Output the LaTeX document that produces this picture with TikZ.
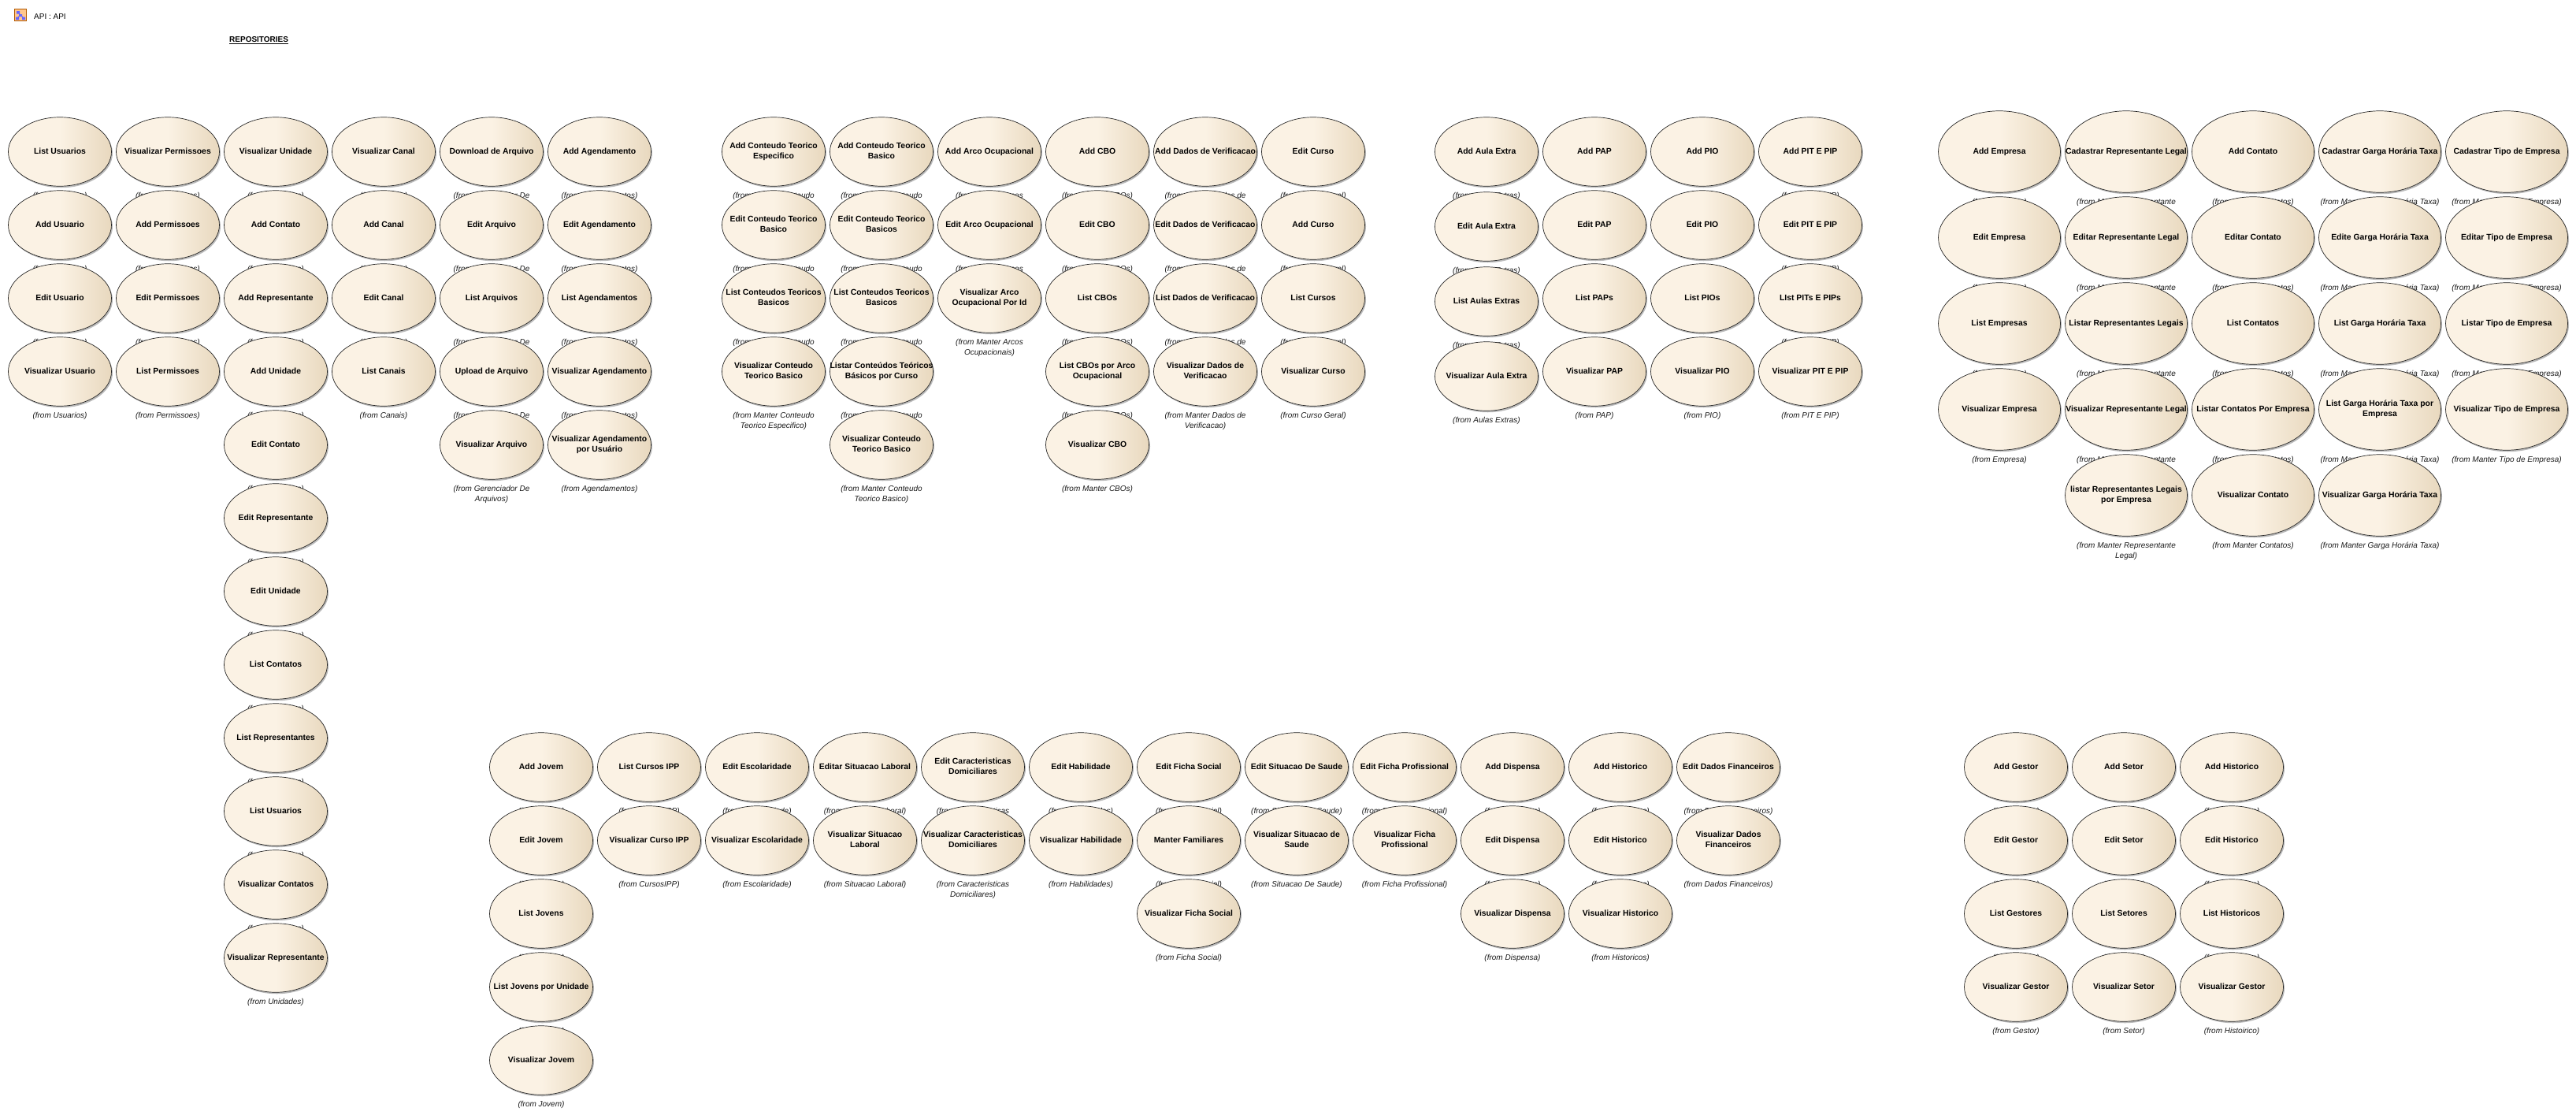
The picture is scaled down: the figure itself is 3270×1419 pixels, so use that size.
\documentclass[tikz,border=0pt]{standalone}
\usepackage{fontspec}
\setmainfont{Liberation Sans}
\usetikzlibrary{positioning,shapes.geometric,shadows}
\definecolor{uclight}{HTML}{FBF2E4}
\definecolor{ucdark}{HTML}{E8D8BE}
\newcommand{\ucase}[6][ucnormal]{%
  \node[ucase,#1] (#2) at (#3,#4) {\makebox[0pt]{\begin{tabular}{@{}c@{}}#5\end{tabular}}};
  \node[fromlbl,below=7pt of #2] (from#2) {(from #6)};
}
\begin{document}
\begin{tikzpicture}[x=1pt,y=-1pt,
  ucase/.style={ellipse,draw=black!85,line width=0.7pt,inner sep=0pt,left color=uclight,
    right color=ucdark,middle color=uclight,
    drop shadow={shadow xshift=1.5pt,shadow yshift=-2pt,fill=black!45,opacity=0.6},
    font=\fontsize{10.4}{13}\selectfont\bfseries},
  ucnormal/.style={minimum width=131pt,minimum height=87.5pt},
  ucwide/.style={minimum width=155pt,minimum height=103.5pt},
  fromlbl/.style={inner sep=0pt,align=center,font=\fontsize{10}{13}\selectfont\itshape,text=black!90}]
\useasboundingbox (0,0) rectangle (3270,1419);
% title
\filldraw[fill=orange!45,draw=orange!70!black,line width=1pt] (18.5,11.5) rectangle (33.5,26.5);
\draw[blue!70,line width=0.8pt] (23,16) -- (26,19) -- (30,23) (26,19) -- (22,23);
\fill[blue!60] (21,14) rectangle (25,17.5) (24,18) rectangle (28,21) (20,21.5) rectangle (24,25) (28,21.5) rectangle (32,25);
\node[anchor=west,inner sep=0pt,font=\fontsize{10}{12}\selectfont] (diagtitle) at (43,21) {API : API};
\node[anchor=west,inner sep=0pt,font=\fontsize{10}{12}\selectfont\bfseries] (repotitle) at (291,51) {\underline{REPOSITORIES}};
% usuarios
\ucase{listusuarios}{76}{192.5}{List Usuarios}{Usuarios}
\ucase{addusuario}{76}{285.5}{Add Usuario}{Usuarios}
\ucase{editusuario}{76}{378.5}{Edit Usuario}{Usuarios}
\ucase{verusuario}{76}{471.5}{Visualizar Usuario}{Usuarios}
% permissoes
\ucase{verpermissoes}{213}{192.5}{Visualizar Permissoes}{Permissoes}
\ucase{addpermissoes}{213}{285.5}{Add Permissoes}{Permissoes}
\ucase{editpermissoes}{213}{378.5}{Edit Permissoes}{Permissoes}
\ucase{listpermissoes}{213}{471.5}{List Permissoes}{Permissoes}
% unidades
\ucase{verunidade}{350}{192.5}{Visualizar Unidade}{Unidades}
\ucase{unicontatoadd}{350}{285.5}{Add Contato}{Unidades}
\ucase{addrepr}{350}{378.5}{Add Representante}{Unidades}
\ucase{addunidade}{350}{471.5}{Add Unidade}{Unidades}
\ucase{unicontatoedit}{350}{564.5}{Edit Contato}{Unidades}
\ucase{editrepr}{350}{657.5}{Edit Representante}{Unidades}
\ucase{editunidade}{350}{750.5}{Edit Unidade}{Unidades}
\ucase{unicontatolist}{350}{843.5}{List Contatos}{Unidades}
\ucase{listrepr}{350}{936.5}{List Representantes}{Unidades}
\ucase{uniusuarios}{350}{1029.5}{List Usuarios}{Unidades}
\ucase{vercontatos}{350}{1122.5}{Visualizar Contatos}{Unidades}
\ucase{verrepr}{350}{1215.5}{Visualizar Representante}{Unidades}
% canais
\ucase{vercanal}{487}{192.5}{Visualizar Canal}{Canais}
\ucase{addcanal}{487}{285.5}{Add Canal}{Canais}
\ucase{editcanal}{487}{378.5}{Edit Canal}{Canais}
\ucase{listcanais}{487}{471.5}{List Canais}{Canais}
% arquivos
\ucase{downarquivo}{624}{192.5}{Download de Arquivo}{Gerenciador De\\Arquivos}
\ucase{editarquivo}{624}{285.5}{Edit Arquivo}{Gerenciador De\\Arquivos}
\ucase{listarquivos}{624}{378.5}{List Arquivos}{Gerenciador De\\Arquivos}
\ucase{uparquivo}{624}{471.5}{Upload de Arquivo}{Gerenciador De\\Arquivos}
\ucase{verarquivo}{624}{564.5}{Visualizar Arquivo}{Gerenciador De\\Arquivos}
% agendamentos
\ucase{addagenda}{761}{192.5}{Add Agendamento}{Agendamentos}
\ucase{editagenda}{761}{285.5}{Edit Agendamento}{Agendamentos}
\ucase{listagenda}{761}{378.5}{List Agendamentos}{Agendamentos}
\ucase{veragenda}{761}{471.5}{Visualizar Agendamento}{Agendamentos}
\ucase{veragendauser}{761}{564.5}{Visualizar Agendamento\\por Usuário}{Agendamentos}
% conteudo especifico
\ucase{addespecifico}{982}{192.5}{Add Conteudo Teorico\\Especifico}{Manter Conteudo\\Teorico Especifico}
\ucase{editespecifico}{982}{285.5}{Edit Conteudo Teorico\\Basico}{Manter Conteudo\\Teorico Especifico}
\ucase{listespecifico}{982}{378.5}{List Conteudos Teoricos\\Basicos}{Manter Conteudo\\Teorico Especifico}
\ucase{verespecifico}{982}{471.5}{Visualizar Conteudo\\Teorico Basico}{Manter Conteudo\\Teorico Especifico}
% conteudo basico
\ucase{addbasico}{1119}{192.5}{Add Conteudo Teorico\\Basico}{Manter Conteudo\\Teorico Basico}
\ucase{editbasico}{1119}{285.5}{Edit Conteudo Teorico\\Basicos}{Manter Conteudo\\Teorico Basico}
\ucase{listbasico}{1119}{378.5}{List Conteudos Teoricos\\Basicos}{Manter Conteudo\\Teorico Basico}
\ucase{listbasicocurso}{1119}{471.5}{Listar Conteúdos Teóricos\\Básicos por Curso}{Manter Conteudo\\Teorico Basico}
\ucase{verbasico}{1119}{564.5}{Visualizar Conteudo\\Teorico Basico}{Manter Conteudo\\Teorico Basico}
% arcos
\ucase{addarco}{1256}{192.5}{Add Arco Ocupacional}{Manter Arcos\\Ocupacionais}
\ucase{editarco}{1256}{285.5}{Edit Arco Ocupacional}{Manter Arcos\\Ocupacionais}
\ucase{verarco}{1256}{378.5}{Visualizar Arco\\Ocupacional Por Id}{Manter Arcos\\Ocupacionais}
% cbo
\ucase{addcbo}{1393}{192.5}{Add CBO}{Manter CBOs}
\ucase{editcbo}{1393}{285.5}{Edit CBO}{Manter CBOs}
\ucase{listcbo}{1393}{378.5}{List CBOs}{Manter CBOs}
\ucase{listcboarco}{1393}{471.5}{List CBOs por Arco\\Ocupacional}{Manter CBOs}
\ucase{vercbo}{1393}{564.5}{Visualizar CBO}{Manter CBOs}
% verificacao
\ucase{addverif}{1530}{192.5}{Add Dados de Verificacao}{Manter Dados de\\Verificacao}
\ucase{editverif}{1530}{285.5}{Edit Dados de Verificacao}{Manter Dados de\\Verificacao}
\ucase{listverif}{1530}{378.5}{List Dados de Verificacao}{Manter Dados de\\Verificacao}
\ucase{ververif}{1530}{471.5}{Visualizar Dados de\\Verificacao}{Manter Dados de\\Verificacao}
% curso
\ucase{editcurso}{1667}{192.5}{Edit Curso}{Curso Geral}
\ucase{addcurso}{1667}{285.5}{Add Curso}{Curso Geral}
\ucase{listcursos}{1667}{378.5}{List Cursos}{Curso Geral}
\ucase{vercurso}{1667}{471.5}{Visualizar Curso}{Curso Geral}
% aulas extras
\ucase{addaula}{1887}{192.5}{Add Aula Extra}{Aulas Extras}
\ucase{editaula}{1887}{287.5}{Edit Aula Extra}{Aulas Extras}
\ucase{listaulas}{1887}{382.5}{List Aulas Extras}{Aulas Extras}
\ucase{veraula}{1887}{477.5}{Visualizar Aula Extra}{Aulas Extras}
% pap
\ucase{addpap}{2024}{192.5}{Add PAP}{PAP}
\ucase{editpap}{2024}{285.5}{Edit PAP}{PAP}
\ucase{listpap}{2024}{378.5}{List PAPs}{PAP}
\ucase{verpap}{2024}{471.5}{Visualizar PAP}{PAP}
% pio
\ucase{addpio}{2161}{192.5}{Add PIO}{PIO}
\ucase{editpio}{2161}{285.5}{Edit PIO}{PIO}
\ucase{listpio}{2161}{378.5}{List PIOs}{PIO}
\ucase{verpio}{2161}{471.5}{Visualizar PIO}{PIO}
% pit e pip
\ucase{addpit}{2298}{192.5}{Add PIT E PIP}{PIT E PIP}
\ucase{editpit}{2298}{285.5}{Edit PIT E PIP}{PIT E PIP}
\ucase{listpit}{2298}{378.5}{LIst PITs E PIPs}{PIT E PIP}
\ucase{verpit}{2298}{471.5}{Visualizar PIT E PIP}{PIT E PIP}
% empresa
\ucase[ucwide]{addempresa}{2538}{192.5}{Add Empresa}{Empresa}
\ucase[ucwide]{editempresa}{2538}{301.5}{Edit Empresa}{Empresa}
\ucase[ucwide]{listempresas}{2538}{410.5}{List Empresas}{Empresa}
\ucase[ucwide]{verempresa}{2538}{519.5}{Visualizar Empresa}{Empresa}
% representante legal
\ucase[ucwide]{addlegal}{2699}{192.5}{Cadastrar Representante Legal}{Manter Representante\\Legal}
\ucase[ucwide]{editlegal}{2699}{301.5}{Editar Representante Legal}{Manter Representante\\Legal}
\ucase[ucwide]{listlegal}{2699}{410.5}{Listar Representantes Legais}{Manter Representante\\Legal}
\ucase[ucwide]{verlegal}{2699}{519.5}{Visualizar Representante Legal}{Manter Representante\\Legal}
\ucase[ucwide]{listlegalemp}{2699}{628.5}{listar Representantes Legais\\por Empresa}{Manter Representante\\Legal}
% contatos
\ucase[ucwide]{addcontato}{2860}{192.5}{Add Contato}{Manter Contatos}
\ucase[ucwide]{editcontato}{2860}{301.5}{Editar Contato}{Manter Contatos}
\ucase[ucwide]{listcontatos}{2860}{410.5}{List Contatos}{Manter Contatos}
\ucase[ucwide]{listcontatosemp}{2860}{519.5}{Listar Contatos Por Empresa}{Manter Contatos}
\ucase[ucwide]{vercontato}{2860}{628.5}{Visualizar Contato}{Manter Contatos}
% garga horaria
\ucase[ucwide]{addgarga}{3021}{192.5}{Cadastrar Garga Horária Taxa}{Manter Garga Horária Taxa}
\ucase[ucwide]{editgarga}{3021}{301.5}{Edite Garga Horária Taxa}{Manter Garga Horária Taxa}
\ucase[ucwide]{listgarga}{3021}{410.5}{List Garga Horária Taxa}{Manter Garga Horária Taxa}
\ucase[ucwide]{listgargaemp}{3021}{519.5}{List Garga Horária Taxa por\\Empresa}{Manter Garga Horária Taxa}
\ucase[ucwide]{vergarga}{3021}{628.5}{Visualizar Garga Horária Taxa}{Manter Garga Horária Taxa}
% tipo de empresa
\ucase[ucwide]{addtipo}{3182}{192.5}{Cadastrar Tipo de Empresa}{Manter Tipo de Empresa}
\ucase[ucwide]{edittipo}{3182}{301.5}{Editar Tipo de Empresa}{Manter Tipo de Empresa}
\ucase[ucwide]{listtipo}{3182}{410.5}{Listar Tipo de Empresa}{Manter Tipo de Empresa}
\ucase[ucwide]{vertipo}{3182}{519.5}{Visualizar Tipo de Empresa}{Manter Tipo de Empresa}
% jovem
\ucase{addjovem}{687}{973.5}{Add Jovem}{Jovem}
\ucase{editjovem}{687}{1066.5}{Edit Jovem}{Jovem}
\ucase{listjovens}{687}{1159.5}{List Jovens}{Jovem}
\ucase{listjovensuni}{687}{1252.5}{List Jovens por Unidade}{Jovem}
\ucase{verjovem}{687}{1345.5}{Visualizar Jovem}{Jovem}
% fichas do jovem
\ucase{listipp}{824}{973.5}{List Cursos IPP}{CursosIPP}
\ucase{veripp}{824}{1066.5}{Visualizar Curso IPP}{CursosIPP}
\ucase{editescola}{961}{973.5}{Edit Escolaridade}{Escolaridade}
\ucase{verescola}{961}{1066.5}{Visualizar Escolaridade}{Escolaridade}
\ucase{editlaboral}{1098}{973.5}{Editar Situacao Laboral}{Situacao Laboral}
\ucase{verlaboral}{1098}{1066.5}{Visualizar Situacao\\Laboral}{Situacao Laboral}
\ucase{editdomic}{1235}{973.5}{Edit Caracteristicas\\Domiciliares}{Caracteristicas\\Domiciliares}
\ucase{verdomic}{1235}{1066.5}{Visualizar Caracteristicas\\Domiciliares}{Caracteristicas\\Domiciliares}
\ucase{edithabil}{1372}{973.5}{Edit Habilidade}{Habilidades}
\ucase{verhabil}{1372}{1066.5}{Visualizar Habilidade}{Habilidades}
\ucase{editficha}{1509}{973.5}{Edit Ficha Social}{Ficha Social}
\ucase{familiares}{1509}{1066.5}{Manter Familiares}{Ficha Social}
\ucase{verficha}{1509}{1159.5}{Visualizar Ficha Social}{Ficha Social}
\ucase{editsaude}{1646}{973.5}{Edit Situacao De Saude}{Situacao De Saude}
\ucase{versaude}{1646}{1066.5}{Visualizar Situacao de\\Saude}{Situacao De Saude}
\ucase{editprof}{1783}{973.5}{Edit Ficha Profissional}{Ficha Profissional}
\ucase{verprof}{1783}{1066.5}{Visualizar Ficha\\Profissional}{Ficha Profissional}
\ucase{adddispensa}{1920}{973.5}{Add Dispensa}{Dispensa}
\ucase{editdispensa}{1920}{1066.5}{Edit Dispensa}{Dispensa}
\ucase{verdispensa}{1920}{1159.5}{Visualizar Dispensa}{Dispensa}
\ucase{addhist}{2057}{973.5}{Add Historico}{Historicos}
\ucase{edithist}{2057}{1066.5}{Edit Historico}{Historicos}
\ucase{verhist}{2057}{1159.5}{Visualizar Historico}{Historicos}
\ucase{editfinanc}{2194}{973.5}{Edit Dados Financeiros}{Dados Financeiros}
\ucase{verfinanc}{2194}{1066.5}{Visualizar Dados\\Financeiros}{Dados Financeiros}
% gestor, setor, historico
\ucase{addgestor}{2559}{973.5}{Add Gestor}{Gestor}
\ucase{editgestor}{2559}{1066.5}{Edit Gestor}{Gestor}
\ucase{listgestores}{2559}{1159.5}{List Gestores}{Gestor}
\ucase{vergestor}{2559}{1252.5}{Visualizar Gestor}{Gestor}
\ucase{addsetor}{2696}{973.5}{Add Setor}{Setor}
\ucase{editsetor}{2696}{1066.5}{Edit Setor}{Setor}
\ucase{listsetores}{2696}{1159.5}{List Setores}{Setor}
\ucase{versetor}{2696}{1252.5}{Visualizar Setor}{Setor}
\ucase{addhistgest}{2833}{973.5}{Add Historico}{Histoirico}
\ucase{edithistgest}{2833}{1066.5}{Edit Historico}{Histoirico}
\ucase{listhistgest}{2833}{1159.5}{List Historicos}{Histoirico}
\ucase{verhistgest}{2833}{1252.5}{Visualizar Gestor}{Histoirico}
\end{tikzpicture}
\end{document}
